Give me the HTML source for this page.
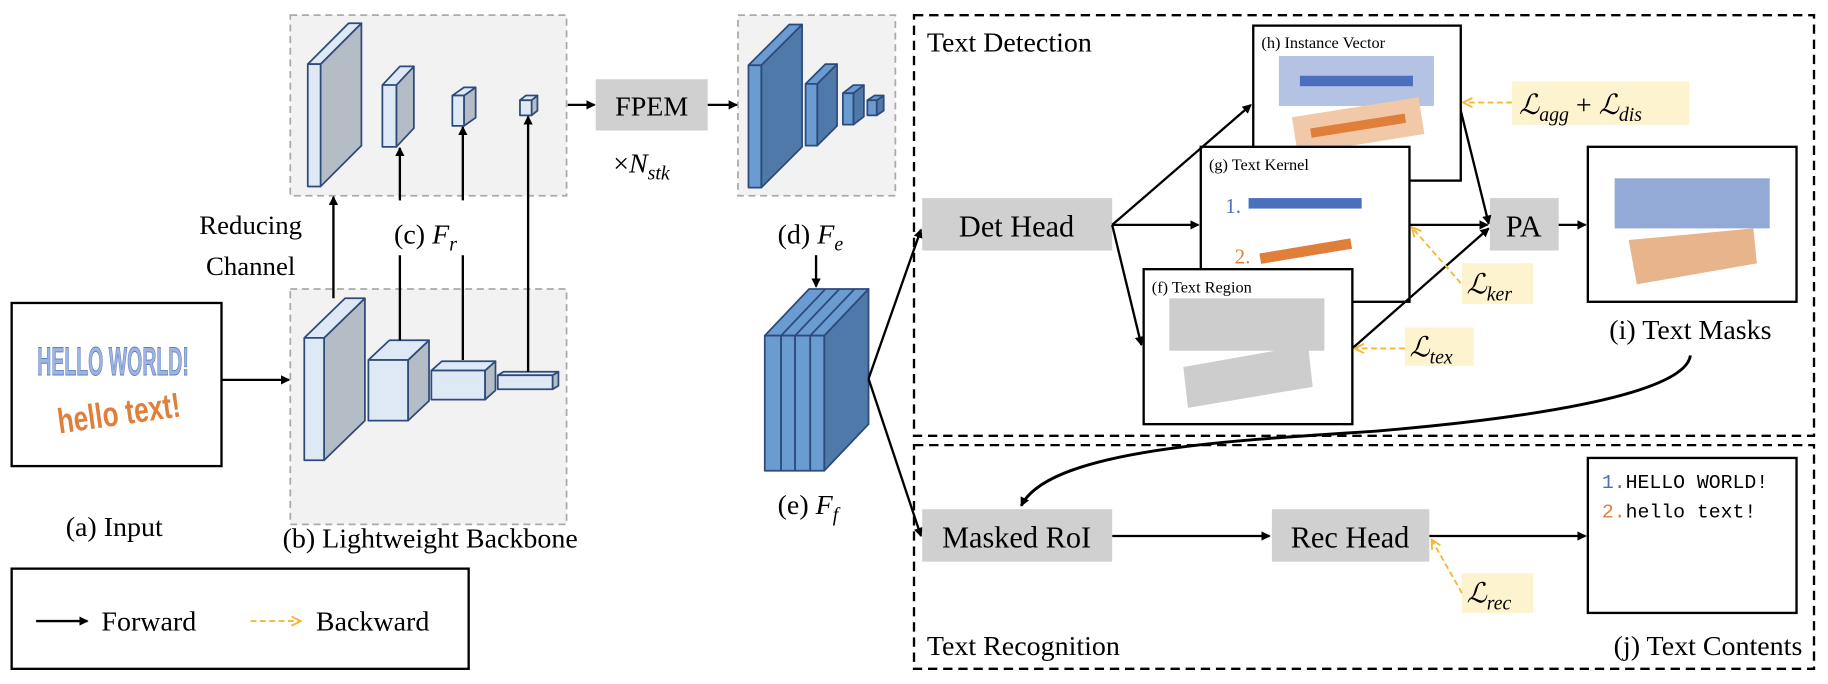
<!DOCTYPE html>
<html><head><meta charset="utf-8"><style>
html,body{margin:0;padding:0;background:#fff;}
svg{display:block;}
text{font-family:"Liberation Serif",serif;}
.m{font-family:"Liberation Mono",monospace;}
.s{font-family:"Liberation Sans",sans-serif;}
</style></head><body>
<svg width="1828" height="684" viewBox="0 0 1568 587" preserveAspectRatio="none" xmlns="http://www.w3.org/2000/svg">
<defs>
<marker id="a" markerWidth="8" markerHeight="8" refX="7" refY="4" orient="auto" markerUnits="userSpaceOnUse"><path d="M0,0 L8,4 L0,8 z" fill="#000"/></marker>
<marker id="o" markerWidth="10" markerHeight="10" refX="9" refY="5" orient="auto" markerUnits="userSpaceOnUse"><path d="M1,1 L9,5 L1,9" fill="none" stroke="#f5b82e" stroke-width="1.6"/></marker>
</defs>

<!-- Input -->
<rect x="10" y="260" width="180" height="140" fill="#fff" stroke="#000" stroke-width="2"/>
<text x="97" y="322" text-anchor="middle" class="s" font-size="34" font-weight="bold" fill="#9fb3e0" stroke="#5b7cc4" stroke-width="0.8" textLength="130" lengthAdjust="spacingAndGlyphs">HELLO WORLD!</text>
<text x="102" y="365" text-anchor="middle" class="s" font-size="30" font-weight="bold" fill="#e07f3a" transform="rotate(-8 100 355)" textLength="106" lengthAdjust="spacingAndGlyphs">hello text!</text>
<line x1="190" y1="326" x2="248" y2="326" stroke="#000" stroke-width="2" marker-end="url(#a)"/>
<text x="98" y="460" text-anchor="middle" font-size="24">(a) Input</text>

<!-- dashed boxes -->
<rect x="249" y="13" width="237" height="155" fill="#f2f2f2" stroke="#aaa" stroke-width="1.5" stroke-dasharray="6,4"/>
<rect x="249" y="248" width="237" height="202" fill="#f2f2f2" stroke="#aaa" stroke-width="1.5" stroke-dasharray="6,4"/>
<rect x="633" y="13" width="135" height="155" fill="#f2f2f2" stroke="#aaa" stroke-width="1.5" stroke-dasharray="6,4"/>

<g stroke="#2d4a7a" stroke-width="1.5" stroke-linejoin="round">
<path d="M278,290 L313,256 L313,361 L278,395 z" fill="#b4bcc6"/>
<path d="M261,290 L296,256 L313,256 L278,290 z" fill="#dfe9f5"/>
<rect x="261" y="290" width="17" height="105" fill="#dfe9f5"/>
<path d="M350,309 L368,292 L368,344 L350,361 z" fill="#b4bcc6"/>
<path d="M316,309 L334,292 L368,292 L350,309 z" fill="#dfe9f5"/>
<rect x="316" y="309" width="34" height="52" fill="#dfe9f5"/>
<path d="M416,318 L425,310 L425,335 L416,343 z" fill="#b4bcc6"/>
<path d="M370,318 L379,310 L425,310 L416,318 z" fill="#dfe9f5"/>
<rect x="370" y="318" width="46" height="25" fill="#dfe9f5"/>
<path d="M474,322 L479,319 L479,331 L474,334 z" fill="#b4bcc6"/>
<path d="M427,322 L432,319 L479,319 L474,322 z" fill="#dfe9f5"/>
<rect x="427" y="322" width="47" height="12" fill="#dfe9f5"/>
<path d="M275,55 L310,20 L310,125 L275,160 z" fill="#b4bcc6"/>
<path d="M264,55 L299,20 L310,20 L275,55 z" fill="#dfe9f5"/>
<rect x="264" y="55" width="11" height="105" fill="#dfe9f5"/>
<path d="M340,73 L355,57 L355,110 L340,126 z" fill="#b4bcc6"/>
<path d="M328,73 L343,57 L355,57 L340,73 z" fill="#dfe9f5"/>
<rect x="328" y="73" width="12" height="53" fill="#dfe9f5"/>
<path d="M398,82 L408,75 L408,101 L398,108 z" fill="#b4bcc6"/>
<path d="M388,82 L398,75 L408,75 L398,82 z" fill="#dfe9f5"/>
<rect x="388" y="82" width="10" height="26" fill="#dfe9f5"/>
<path d="M456,86 L461,82 L461,95 L456,99 z" fill="#b4bcc6"/>
<path d="M446,86 L451,82 L461,82 L456,86 z" fill="#dfe9f5"/>
<rect x="446" y="86" width="10" height="13" fill="#dfe9f5"/>
<path d="M653,56 L688,21 L688,126 L653,161 z" fill="#4f79a8"/>
<path d="M642,56 L677,21 L688,21 L653,56 z" fill="#6a9bd1"/>
<rect x="642" y="56" width="11" height="105" fill="#6a9bd1"/>
<path d="M701,72 L718,55 L718,108 L701,125 z" fill="#4f79a8"/>
<path d="M691,72 L708,55 L718,55 L701,72 z" fill="#6a9bd1"/>
<rect x="691" y="72" width="10" height="53" fill="#6a9bd1"/>
<path d="M732,80 L741,73 L741,100 L732,107 z" fill="#4f79a8"/>
<path d="M723,80 L732,73 L741,73 L732,80 z" fill="#6a9bd1"/>
<rect x="723" y="80" width="9" height="27" fill="#6a9bd1"/>
<path d="M752,86 L758,82 L758,95 L752,99 z" fill="#4f79a8"/>
<path d="M744,86 L750,82 L758,82 L752,86 z" fill="#6a9bd1"/>
<rect x="744" y="86" width="8" height="13" fill="#6a9bd1"/>
<path d="M707,288 L745,248 L745,364 L707,404 z" fill="#4f79a8"/>
<path d="M656,288 L694,248 L745,248 L707,288 z" fill="#6a9bd1"/>
<line x1="670" y1="288" x2="708" y2="248"/><line x1="682" y1="288" x2="720" y2="248"/><line x1="695" y1="288" x2="733" y2="248"/>
<rect x="656" y="288" width="14" height="116" fill="#6a9bd1"/>
<rect x="670" y="288" width="12" height="116" fill="#6a9bd1"/>
<rect x="682" y="288" width="13" height="116" fill="#6a9bd1"/>
<rect x="695" y="288" width="12" height="116" fill="#6a9bd1"/>
</g>

<g stroke="#000" stroke-width="2" fill="none">
<line x1="286" y1="256" x2="286" y2="169" marker-end="url(#a)"/>
<line x1="343" y1="292" x2="343" y2="219"/><line x1="343" y1="172" x2="343" y2="127" marker-end="url(#a)"/>
<line x1="397" y1="309" x2="397" y2="219"/><line x1="397" y1="172" x2="397" y2="109" marker-end="url(#a)"/>
<line x1="453" y1="319" x2="453" y2="100" marker-end="url(#a)"/>
<line x1="487" y1="90" x2="510" y2="90" marker-end="url(#a)"/>
<line x1="607" y1="90" x2="632" y2="90" marker-end="url(#a)"/>
<line x1="700" y1="219" x2="700" y2="246" marker-end="url(#a)"/>
<line x1="745" y1="325" x2="790" y2="197" marker-end="url(#a)"/>
<line x1="745" y1="325" x2="790" y2="460" marker-end="url(#a)"/>
</g>
<text x="215" y="201" text-anchor="middle" font-size="23">Reducing</text>
<text x="215" y="236" text-anchor="middle" font-size="23">Channel</text>
<text x="338" y="209" font-size="24">(c) <tspan font-style="italic">F</tspan><tspan font-style="italic" font-size="17" dy="6">r</tspan></text>
<text x="369" y="470" text-anchor="middle" font-size="24">(b) Lightweight Backbone</text>
<rect x="511" y="68" width="96" height="44" fill="#d0d0d0"/>
<text x="559" y="99" text-anchor="middle" font-size="24">FPEM</text>
<text x="526" y="148" font-size="24">×<tspan font-style="italic">N</tspan><tspan font-style="italic" font-size="17" dy="6">stk</tspan></text>
<text x="667" y="209" font-size="24">(d) <tspan font-style="italic">F</tspan><tspan font-style="italic" font-size="17" dy="6">e</tspan></text>
<text x="667" y="441" font-size="24">(e) <tspan font-style="italic">F</tspan><tspan font-style="italic" font-size="17" dy="6">f</tspan></text>

<rect x="10" y="488" width="392" height="86" fill="#fff" stroke="#000" stroke-width="2"/>
<line x1="31" y1="533" x2="75" y2="533" stroke="#000" stroke-width="2" marker-end="url(#a)"/>
<text x="87" y="541" font-size="24">Forward</text>
<line x1="215" y1="533" x2="258" y2="533" stroke="#f5b82e" stroke-width="1.6" stroke-dasharray="5,3" marker-end="url(#o)"/>
<text x="271" y="541" font-size="24">Backward</text>

<rect x="784" y="13" width="772" height="361" fill="none" stroke="#000" stroke-width="2" stroke-dasharray="8,5"/>
<rect x="784" y="382" width="772" height="192" fill="none" stroke="#000" stroke-width="2" stroke-dasharray="8,5"/>
<text x="795" y="44" font-size="24">Text Detection</text>
<text x="795" y="562" font-size="24">Text Recognition</text>
<text x="1546" y="562" text-anchor="end" font-size="24">(j) Text Contents</text>

<rect x="791" y="170" width="163" height="45" fill="#d0d0d0"/>
<text x="872" y="203" text-anchor="middle" font-size="26">Det Head</text>

<rect x="1075" y="22" width="178" height="133" fill="#fff" stroke="#000" stroke-width="2"/>
<text x="1082" y="41" font-size="14">(h) Instance Vector</text>
<rect x="1097" y="48" width="133" height="43" fill="#b4c3e3"/>
<rect x="1115" y="65" width="97" height="9" fill="#4a6fbe"/>
<g transform="rotate(-9 1164 108)"><rect x="1110" y="92" width="110" height="32" fill="#f2c9a8"/><rect x="1124" y="104" width="82" height="8" fill="#e07f3a"/></g>
<rect x="1030" y="126" width="179" height="133" fill="#fff" stroke="#000" stroke-width="2"/>
<text x="1037" y="146" font-size="14">(g) Text Kernel</text>
<text x="1051" y="183" font-size="18" fill="#4a6fbe">1.</text>
<rect x="1071" y="170" width="97" height="9" fill="#4a6fbe"/>
<text x="1059" y="226" font-size="18" fill="#e07f3a">2.</text>
<line x1="1081" y1="222" x2="1159" y2="209" stroke="#e07f3a" stroke-width="9"/>
<rect x="981" y="231" width="179" height="133" fill="#fff" stroke="#000" stroke-width="2"/>
<text x="988" y="251" font-size="14">(f) Text Region</text>
<rect x="1003" y="256" width="133" height="45" fill="#cdcdcd"/>
<polygon points="1015,315 1122,296 1126,332 1019,350" fill="#cdcdcd"/>
<rect x="1278" y="170" width="59" height="45" fill="#d0d0d0"/>
<text x="1307" y="203" text-anchor="middle" font-size="26">PA</text>
<rect x="1362" y="126" width="179" height="133" fill="#fff" stroke="#000" stroke-width="2"/>
<rect x="1385" y="153" width="133" height="43" fill="#93a9d6"/>
<polygon points="1397,206 1504,196 1507,226 1404,244" fill="#e8b48b"/>
<text x="1450" y="291" text-anchor="middle" font-size="24">(i) Text Masks</text>

<g stroke="#000" stroke-width="2" fill="none">
<line x1="954" y1="193" x2="1073" y2="90" marker-end="url(#a)"/>
<line x1="954" y1="193" x2="1028" y2="193" marker-end="url(#a)"/>
<line x1="954" y1="193" x2="979" y2="296" marker-end="url(#a)"/>
<line x1="1253" y1="95" x2="1277" y2="192" marker-end="url(#a)"/>
<line x1="1209" y1="193" x2="1276" y2="193" marker-end="url(#a)"/>
<line x1="1160" y1="299" x2="1277" y2="196" marker-end="url(#a)"/>
<line x1="1337" y1="193" x2="1360" y2="193" marker-end="url(#a)"/>
<path d="M1450,305 C1445,340 1300,360 1180,370 C1060,378 900,385 876,434" stroke-width="2.5" marker-end="url(#a)"/>
<line x1="954" y1="460" x2="1089" y2="460" marker-end="url(#a)"/>
<line x1="1226" y1="460" x2="1360" y2="460" marker-end="url(#a)"/>
</g>

<rect x="1297" y="70" width="152" height="37" fill="#fdf3cf"/>
<text x="1303" y="98" font-size="24" font-style="italic">ℒ<tspan font-size="17" dy="6">agg</tspan><tspan dy="-6" font-style="normal"> + </tspan>ℒ<tspan font-size="17" dy="6">dis</tspan></text>
<rect x="1254" y="226" width="61" height="35" fill="#fdf3cf"/>
<text x="1258" y="252" font-size="24" font-style="italic">ℒ<tspan font-size="17" dy="6">ker</tspan></text>
<rect x="1205" y="281" width="59" height="33" fill="#fdf3cf"/>
<text x="1209" y="306" font-size="24" font-style="italic">ℒ<tspan font-size="17" dy="6">tex</tspan></text>
<rect x="1254" y="492" width="61" height="34" fill="#fdf3cf"/>
<text x="1258" y="517" font-size="24" font-style="italic">ℒ<tspan font-size="17" dy="6">rec</tspan></text>
<g stroke="#f5b82e" stroke-width="1.6" stroke-dasharray="5,3" fill="none">
<line x1="1297" y1="88" x2="1255" y2="88" marker-end="url(#o)"/>
<line x1="1253" y1="243" x2="1211" y2="195" marker-end="url(#o)"/>
<line x1="1205" y1="299" x2="1162" y2="299" marker-end="url(#o)"/>
<line x1="1254" y1="509" x2="1228" y2="463" marker-end="url(#o)"/>
</g>

<rect x="791" y="437" width="163" height="45" fill="#d0d0d0"/>
<text x="872" y="470" text-anchor="middle" font-size="26">Masked RoI</text>
<rect x="1091" y="437" width="135" height="45" fill="#d0d0d0"/>
<text x="1158" y="470" text-anchor="middle" font-size="26">Rec Head</text>
<rect x="1362" y="393" width="179" height="133" fill="#fff" stroke="#000" stroke-width="2"/>
<text x="1374" y="419" class="m" font-size="17"><tspan fill="#4a6fbe">1.</tspan>HELLO WORLD!</text>
<text x="1374" y="444" class="m" font-size="17"><tspan fill="#e07f3a">2.</tspan>hello text!</text>
</svg>
</body></html>
